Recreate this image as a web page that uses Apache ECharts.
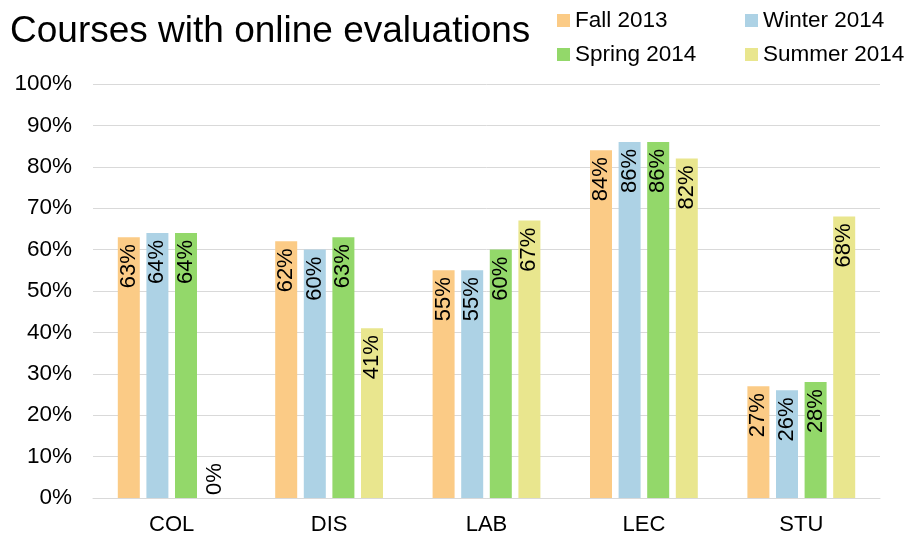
<!DOCTYPE html>
<html>
<head>
<meta charset="utf-8">
<script src="https://cdn.jsdelivr.net/npm/echarts@6/dist/echarts.min.js"></script>
<style>html,body{margin:0;padding:0;background:#fff}#c{width:915px;height:544px}</style>
</head>
<body>
<div id="c"></div>
<script>
var categories = ['COL', 'DIS', 'LAB', 'LEC', 'STU'];
var fall2013 = [63, 62, 55, 84, 27];
var winter2014 = [64, 60, 55, 86, 26];
var spring2014 = [64, 63, 60, 86, 28];
var summer2014 = [0, 41, 67, 82, 68];
var seriesNames = ['Fall 2013', 'Winter 2014', 'Spring 2014', 'Summer 2014'];
var colors = ['#FBCB86', '#ADD2E5', '#93D86A', '#E9E68E'];
var yTicks = [0, 10, 20, 30, 40, 50, 60, 70, 80, 90, 100];

var font = 'Liberation Sans, Arial, sans-serif';
var labelBase = {
  show: true, position: 'insideTop', rotate: 90, align: 'right', verticalAlign: 'middle',
  distance: 7, formatter: '{c}%', fontSize: 22, color: '#000', fontFamily: font
};
function mkData(arr) {
  return arr.map(function (v) {
    if (v === 0) {
      return { value: v, label: { position: 'insideBottom', align: 'left', distance: 3 } };
    }
    return v;
  });
}
var all = [fall2013, winter2014, spring2014, summer2014];
var series = all.map(function (arr, i) {
  return {
    name: seriesNames[i], type: 'bar', data: mkData(arr), barWidth: 22, barGap: '30%',
    itemStyle: { color: colors[i] }, label: labelBase
  };
});
var legendCommon = {
  orient: 'vertical', itemWidth: 13, itemHeight: 13, itemGap: 11, icon: 'rect',
  textStyle: { fontSize: 22.5, color: '#000', fontFamily: font }, selectedMode: false
};
var chart = echarts.init(document.getElementById('c'), null, { renderer: 'canvas' });
chart.setOption({
  animation: false,
  backgroundColor: '#fff',
  color: colors,
  title: {
    text: 'Courses with online evaluations', left: 5, top: 8,
    textStyle: { fontSize: 37, fontWeight: 'normal', color: '#000', fontFamily: font }
  },
  legend: [
    Object.assign({ data: [seriesNames[0], seriesNames[2]], left: 552, top: 4 }, legendCommon),
    Object.assign({ data: [seriesNames[1], seriesNames[3]], left: 740, top: 4 }, legendCommon)
  ],
  grid: { left: 93, right: 35, top: 84, bottom: 46, containLabel: false },
  xAxis: {
    type: 'category', data: categories,
    axisLine: { lineStyle: { color: '#d9d9d9' } },
    axisTick: { show: false },
    axisLabel: { fontSize: 22, color: '#000', fontFamily: font, margin: 16 }
  },
  yAxis: {
    type: 'value', min: yTicks[0], max: yTicks[yTicks.length - 1], interval: 10,
    axisLine: { show: false }, axisTick: { show: false },
    splitLine: { lineStyle: { color: '#d9d9d9' } },
    axisLabel: { fontSize: 22.5, color: '#000', fontFamily: font, margin: 21, formatter: '{value}%' }
  },
  series: series
});
</script>
</body>
</html>
